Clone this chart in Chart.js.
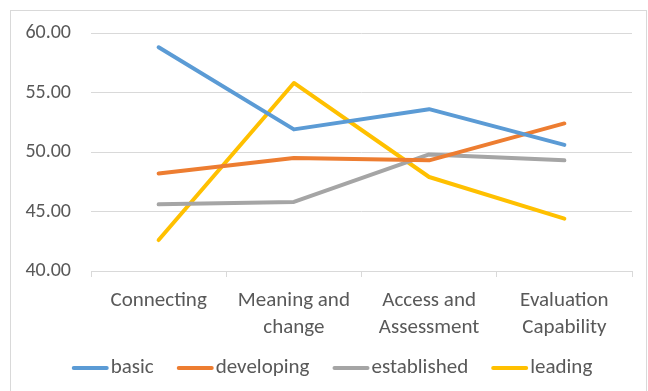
<!DOCTYPE html>
<html lang="en">
<head>
    <meta charset="UTF-8">
    <title>Scores by area</title>
    <script src="https://cdn.jsdelivr.net/npm/chart.js"></script>
    <style>
        body { margin: 0; background: #fff; }
        #frame { position: absolute; left: 10px; top: 10px; width: 635px; height: 400px; border: 1px solid #d9d9d9; }
        #wrap { position: absolute; left: 0; top: 0; width: 648px; height: 391px; }
    </style>
</head>
<body>
    <div id="frame"></div>
    <div id="wrap"><canvas id="lineChart"></canvas></div>
    <script>
        // data
        var categories = [['Connecting'], ['Meaning and', 'change'], ['Access and', 'Assessment'], ['Evaluation', 'Capability']];
        var basic = [58.8, 51.9, 53.6, 50.6];
        var developing = [48.2, 49.5, 49.3, 52.4];
        var established = [45.6, 45.8, 49.8, 49.3];
        var leading = [42.6, 55.8, 47.9, 44.4];
        var yTicks = [40, 45, 50, 55, 60];

        var textColor = '#595959';
        var gridColor = '#d9d9d9';
        var fontFamily = 'Carlito, Calibri, Lato, sans-serif';

        function line(label, data, color) {
            return {
                label: label,
                data: data,
                borderColor: color,
                backgroundColor: color,
                borderWidth: 4,
                pointRadius: 0,
                tension: 0,
                borderCapStyle: 'round',
                borderJoinStyle: 'round'
            };
        }

        // Excel-like legend: short line, tight gap, text
        var excelLegend = {
            id: 'excelLegend',
            afterDraw: function (chart) {
                var c = chart.ctx;
                var lineLen = 37, gap = 2, spacing = 23, y = 368;
                c.save();
                c.font = '21px ' + fontFamily;
                c.textBaseline = 'middle';
                var sets = chart.data.datasets;
                var total = 0;
                sets.forEach(function (ds, i) {
                    total += lineLen + gap + c.measureText(ds.label).width;
                    if (i > 0) total += spacing;
                });
                var x = chart.width / 2 + 8 - total / 2;
                sets.forEach(function (ds) {
                    c.strokeStyle = ds.borderColor;
                    c.lineWidth = 4;
                    c.lineCap = 'round';
                    c.beginPath();
                    c.moveTo(x + 2, y);
                    c.lineTo(x + lineLen - 2, y);
                    c.stroke();
                    x += lineLen + gap;
                    c.fillStyle = textColor;
                    c.fillText(ds.label, x, y);
                    x += c.measureText(ds.label).width + spacing;
                });
                c.restore();
            }
        };

        var ctx = document.getElementById('lineChart').getContext('2d');
        var chart = new Chart(ctx, {
            type: 'line',
            data: {
                labels: categories,
                datasets: [
                    line('basic', basic, '#5b9bd5'),
                    line('developing', developing, '#ed7d31'),
                    line('established', established, '#a5a5a5'),
                    line('leading', leading, '#ffc000')
                ]
            },
            plugins: [excelLegend],
            options: {
                responsive: true,
                maintainAspectRatio: false,
                animation: false,
                layout: { padding: { top: 33, right: 16, bottom: 41, left: 0 } },
                plugins: {
                    tooltip: { enabled: false },
                    legend: { display: false }
                },
                scales: {
                    x: {
                        offset: true,
                        grid: {
                            offset: true,
                            drawOnChartArea: false,
                            drawTicks: true,
                            tickLength: 6,
                            color: gridColor
                        },
                        border: { display: true, color: gridColor },
                        ticks: {
                            color: textColor,
                            padding: 10,
                            maxRotation: 0,
                            font: { family: fontFamily, size: 21, lineHeight: 1.3 }
                        },
                        afterFit: function (scale) { scale.height = 79; }
                    },
                    y: {
                        min: yTicks[0],
                        max: yTicks[yTicks.length - 1],
                        afterBuildTicks: function (scale) {
                            scale.ticks = yTicks.map(function (v) { return { value: v }; });
                        },
                        grid: { color: gridColor, drawTicks: false },
                        border: { display: false },
                        ticks: {
                            color: textColor,
                            padding: 20,
                            font: { family: fontFamily, size: 20 },
                            callback: function (v) { return Number(v).toFixed(2); }
                        },
                        afterFit: function (scale) { scale.width = 91; }
                    }
                }
            }
        });
    </script>
</body>
</html>
